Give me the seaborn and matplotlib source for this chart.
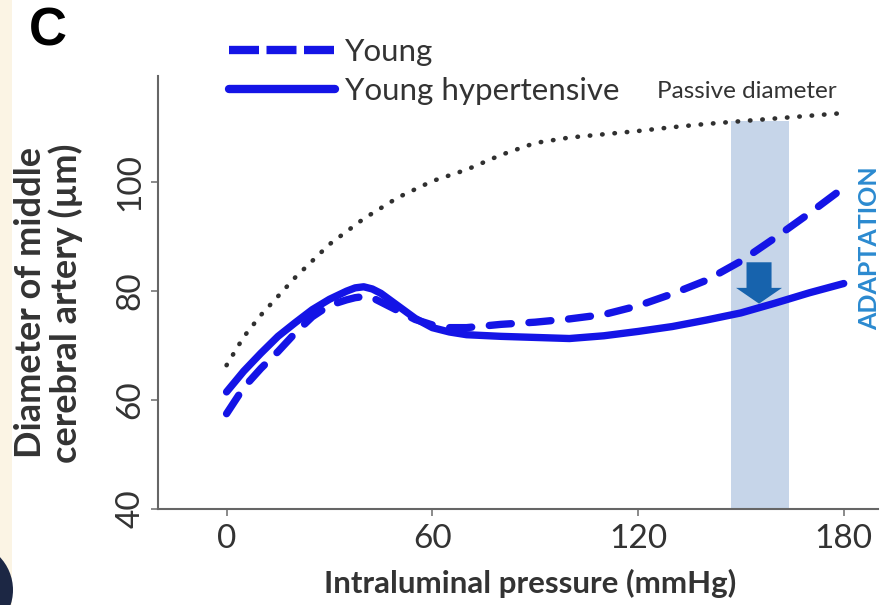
import numpy as np
import pandas as pd
import matplotlib
matplotlib.use("Agg")
import matplotlib.pyplot as plt
import seaborn as sns
from matplotlib.lines import Line2D
from matplotlib.patches import Rectangle, Ellipse

# ---------------- data ----------------
pressure = [0, 5, 10, 15, 20, 25, 30, 35, 37.5, 40, 42.5, 45, 50, 55, 60, 65, 70,
            80, 90, 100, 110, 120, 130, 140, 150, 160, 170, 180]
young = [57.5, 62.3, 65.8, 68.9, 72.3, 75.3, 77.4, 78.4, 78.8, 79.0, 78.8, 78.0,
         76.4, 74.8, 73.8, 73.3, 73.3, 73.9, 74.3, 74.9, 75.7, 77.3, 79.5, 82.0,
         85.5, 89.8, 94.3, 99.0]
young_ht = [61.5, 65.3, 68.6, 71.7, 74.2, 76.6, 78.5, 80.0, 80.6, 80.8, 80.4,
            79.6, 77.3, 75.0, 73.3, 72.5, 72.0, 71.7, 71.5, 71.3, 71.8, 72.6,
            73.5, 74.7, 76.0, 77.8, 79.7, 81.4]
passive_p = [0, 5, 10, 20, 30, 40, 50, 60, 70, 80, 90, 100, 110, 120, 130, 140,
             150, 160, 170, 180]
passive = [66.4, 71.6, 75.6, 82.5, 88.6, 93.3, 97.2, 100.2, 102.3, 105.0, 107.2,
           108.2, 108.8, 109.4, 110.1, 110.7, 111.2, 111.7, 112.2, 112.7]
groups = ["Young", "Young hypertensive"]
x_ticks = [0, 60, 120, 180]
y_ticks = [40, 60, 80, 100]
band = [147, 164]

df = pd.DataFrame({
    "pressure": pressure * 2,
    "diameter": young + young_ht,
    "group": [groups[0]] * len(pressure) + [groups[1]] * len(pressure),
})
df_passive = pd.DataFrame({"pressure": passive_p, "diameter": passive})

# ---------------- style ----------------
sns.set_style("ticks")
plt.rcParams["font.family"] = ["Lato", "DejaVu Sans"]

BLUE = "#1414E6"
TXT = "#333333"

fig = plt.figure(figsize=(8.82, 6.05), dpi=100)
fig.patch.set_facecolor("white")
# screenshot artefacts: beige strip on the left and dark disc at bottom-left
fig.patches.append(Rectangle((0, 0), 12 / 882, 1, transform=fig.transFigure,
                             facecolor="#fbf4e4", edgecolor="none", zorder=0))
fig.patches.append(Ellipse((-35 / 882, 15 / 605), 96 / 882, 96 / 605,
                           transform=fig.transFigure, facecolor="#1c2744",
                           edgecolor="none", zorder=1))

ax = fig.add_axes([158 / 882, 1 - 509 / 605, 720 / 882, 433 / 605])
ax.set_facecolor("none")

# shaded band
ax.axvspan(band[0], band[1], ymin=0, ymax=(111.3 - 40) / (119.5 - 40),
           color="#c6d5e9", lw=0, zorder=0)

# passive diameter (dotted)
sns.lineplot(data=df_passive, x="pressure", y="diameter", ax=ax, color="#303030",
             linestyle=(0, (0.1, 2.6)), linewidth=3.3, legend=False, zorder=2,
             dash_capstyle="round")

# main curves
sns.lineplot(data=df, x="pressure", y="diameter", hue="group", style="group",
             palette={groups[0]: BLUE, groups[1]: BLUE},
             dashes={groups[0]: (3, 2.4), groups[1]: ""},
             linewidth=5.3, ax=ax, legend=False, zorder=3)
for ln in ax.lines[1:]:
    ln.set_dash_capstyle("round")
    ln.set_solid_joinstyle("round")
    ln.set_solid_capstyle("round")

# arrow
ax.arrow(155.3, 85.3, 0, -7.6, width=7.3, head_width=13.4, head_length=2.9,
         length_includes_head=True, color="#1763ad", lw=0, zorder=4)

ax.set_xlim(-20, 190)
ax.set_ylim(40, 119.5)
ax.set_xticks(x_ticks)
ax.set_yticks(y_ticks)
sns.despine(ax=ax)
for s in ["left", "bottom"]:
    ax.spines[s].set_color("#666666")
    ax.spines[s].set_linewidth(1.5)
ax.tick_params(axis="both", length=5, width=1.2, color="#777777",
               labelsize=24, labelcolor=TXT)
ax.tick_params(axis="x", pad=6)
ax.tick_params(axis="y", pad=4)
for lab in ax.get_yticklabels():
    lab.set_rotation(90)
    lab.set_va("center")

ax.set_xlabel("Intraluminal pressure (mmHg)", fontsize=22.5, fontweight="bold",
              color=TXT, va="center")
ax.xaxis.set_label_coords(0.517, -0.171)
ax.set_ylabel("Diameter of middle\ncerebral artery (µm)", fontsize=26,
              fontweight="bold", color=TXT, va="center", linespacing=1.05)
ax.yaxis.set_label_coords(-0.152, 0.476)

# annotations
ax.text(125.5, 116.6, "Passive diameter", fontsize=17.5, color=TXT,
        ha="left", va="center")
ax.text(187.6, 87.9, "ADAPTATION", fontsize=18, fontweight="bold",
        color="#2b8ad0", rotation=90, ha="center", va="center", clip_on=False)
fig.text(48 / 882, 1 - 32 / 605, "C", fontsize=38, fontweight="bold",
         color="black", ha="center", va="center",
         family=["Liberation Sans", "DejaVu Sans"])

# legend
handles = [Line2D([], [], color=BLUE, lw=6, dashes=(3.6, 0.9)),
           Line2D([], [], color=BLUE, lw=6)]
leg = ax.legend(handles, groups, loc="upper left",
                bbox_to_anchor=(229 / 882, 1 - 38 / 605),
                bbox_transform=fig.transFigure, frameon=False, fontsize=22.5,
                handlelength=3.4, handletextpad=0.3, labelspacing=0.35,
                borderpad=0, borderaxespad=0)
for t in leg.get_texts():
    t.set_color(TXT)

fig.savefig("out.png", dpi=100)
